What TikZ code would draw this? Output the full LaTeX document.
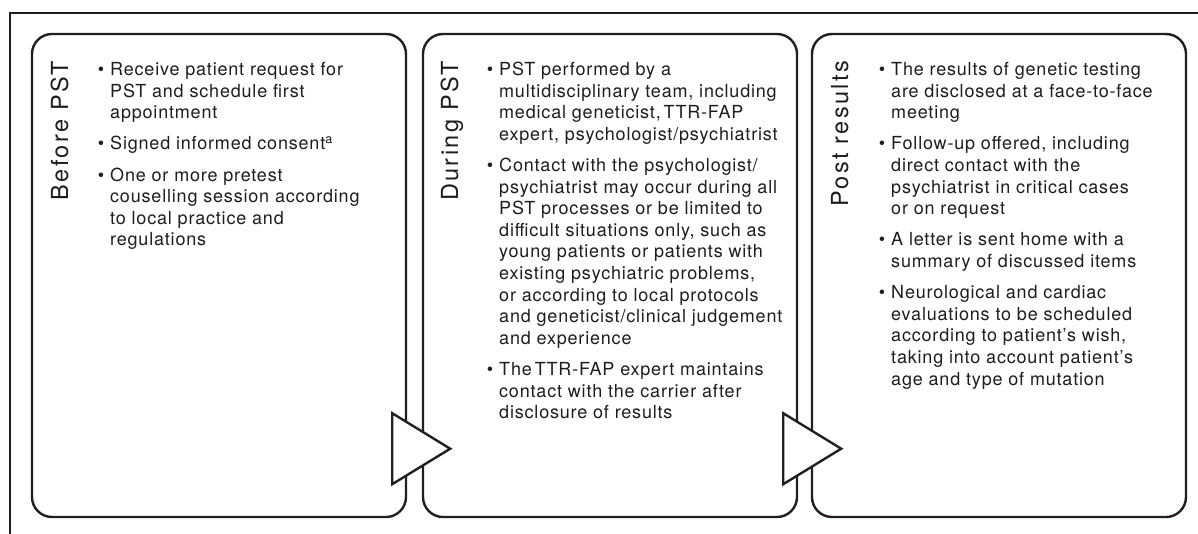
\documentclass[tikz,border=0pt]{standalone}
\usepackage{fontspec}
\setmainfont{TeX Gyre Heros}[LetterSpace=4.5]
\usetikzlibrary{calc}

\definecolor{ink}{HTML}{231F20}
\definecolor{txt}{HTML}{1E1C1D}

% a top-aligned bullet list whose baseline is that of its first line
\newcommand\bulletlist[2]{\vtop{\hsize=#1\relax\raggedright\parindent=0pt
  \parskip=9.6pt\fontsize{18}{21.6}\selectfont #2}}
\newcommand\itm{\par\noindent\llap{\textbullet\hspace{6pt}}}

\tikzset{
  phase/.style={draw=ink, line width=2.4pt, rounded corners=20pt,
    minimum width=374pt, minimum height=483pt, inner sep=0pt},
  phasename/.style={rotate=90, anchor=base east, inner sep=0pt, text=txt,
    font=\fontsize{23.5}{27}\selectfont\addfontfeatures{LetterSpace=10}},
  items/.style={anchor=base west, inner sep=0pt, text=txt},
  flowtri/.style={draw=ink, fill=white, line width=2.4pt, line join=miter},
  frame/.style={draw=ink, line width=2.6pt}
}

\begin{document}
\begin{tikzpicture}[x=1pt, y=-1pt]
\useasboundingbox (0,0) rectangle (1198,533);

% outer frame (open on the right and at the bottom)
\draw[frame] (10,540) -- (10,13) -- (1205,13);

% the three phases
\node[phase] (b1) at (219,275.5) {};
\node[phase] (b2) at (610,275.5) {};
\node[phase] (b3) at (999,275.5) {};

\node[phasename] (n1) at (68,61) {Before PST};
\node[phasename] (n2) at (458,61) {During PST};
\node[phasename] (n3) at (848,61) {Post results};

\node[items] (l1) at (110,75.5) {\bulletlist{290pt}{%
\itm Receive patient request for\newline PST and schedule first\newline appointment
\itm Signed informed consent\textsuperscript{a}
\itm One or more pretest\newline couselling session according\newline to local practice and\newline regulations}};

\node[items] (l2) at (499,75.5) {\bulletlist{300pt}{%
\itm PST performed by a\newline multidisciplinary team, including\newline medical geneticist,\,TTR-FAP\newline expert, psychologist/psychiatrist
\itm Contact with the psychologist/\newline psychiatrist may occur during all\newline PST processes or be limited to\newline difficult situations only, such as\newline young patients or patients with\newline existing psychiatric problems,\newline or according to local protocols\newline and geneticist/clinical judgement\newline and experience
\itm The\,TTR-FAP expert maintains\newline contact with the carrier after\newline disclosure of results}};

\node[items] (l3) at (891,75.5) {\bulletlist{290pt}{%
\itm The results of genetic testing\newline are disclosed at a face-to-face\newline meeting
\itm Follow-up offered, including\newline direct contact with the\newline psychiatrist in critical cases\newline or on request
\itm A letter is sent home with a\newline summary of discussed items
\itm Neurological and cardiac\newline evaluations to be scheduled\newline according to patient’s wish,\newline taking into account patient’s\newline age and type of mutation}};

% open triangles leading from one phase to the next
\draw[flowtri] ($(b1.south east)+(-15,-105)$) -- ($(b1.south east)+(-15,-34)$)
  -- ($(b1.south east)+(43,-69.5)$) -- cycle;
\draw[flowtri] ($(b2.south east)+(-15,-105)$) -- ($(b2.south east)+(-15,-34)$)
  -- ($(b2.south east)+(43,-69.5)$) -- cycle;
\end{tikzpicture}
\end{document}
